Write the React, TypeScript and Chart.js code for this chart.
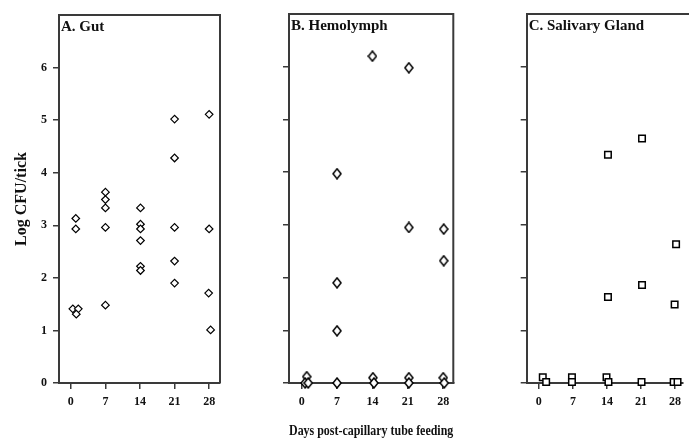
import React, { useEffect, useRef } from "react";
import { Chart, registerables } from "chart.js";

Chart.register(...registerables);

// ---- shared axis data ----
const DAY_TICKS = [0, 7, 14, 21, 28];
const LOG_TICKS = [0, 1, 2, 3, 4, 5, 6];
const Y_TITLE = "Log CFU/tick";
const X_TITLE = "Days post-capillary tube feeding";

// ---- A. Gut ----
const gutTitle = "A. Gut";
const gutDays = [1, 1, 0.4, 1.5, 1.1, 7, 7, 7, 7, 7, 14.1, 14.1, 14.1, 14.1, 14.1, 14.1, 21, 21, 21, 21, 21, 28, 28, 27.9, 28.3];
const gutLog = [3.13, 2.93, 1.41, 1.41, 1.31, 3.63, 3.49, 3.33, 2.96, 1.48, 3.33, 3.02, 2.93, 2.71, 2.22, 2.14, 5.02, 4.28, 2.96, 2.32, 1.9, 5.11, 2.93, 1.71, 1.01];

// ---- B. Hemolymph ----
const hemoTitle = "B. Hemolymph";
const hemoDays = [1, 0.7, 1.3, 7, 7, 7, 7, 14, 14.1, 14.3, 21.2, 21.2, 21.2, 21.2, 28.1, 28.1, 28, 28.2];
const hemoLog = [0.12, 0, 0, 3.97, 1.9, 0.99, 0, 6.2, 0.1, 0, 5.98, 2.95, 0.1, 0, 2.92, 2.32, 0.1, 0];

// ---- C. Salivary Gland ----
const salTitle = "C. Salivary Gland";
const salDays = [0.8, 1.5, 6.8, 6.8, 13.9, 14.3, 14.2, 14.2, 21.2, 21.2, 21.1, 27.7, 28.5, 28.2, 27.9];
const salLog = [0.11, 0.02, 0.11, 0.02, 0.11, 0.02, 4.33, 1.63, 4.64, 1.86, 0.02, 0.02, 0.02, 2.63, 1.49];

const AXIS_COLOR = "#3a3a3a";
const FONT = "'Liberation Serif', 'Times New Roman', serif";

function makeDiamond(w: number, h: number, lw: number) {
  const c = document.createElement("canvas");
  c.width = w + 2;
  c.height = h + 2;
  const ctx = c.getContext("2d")!;
  ctx.fillStyle = "#fff";
  ctx.strokeStyle = "#000";
  ctx.lineWidth = lw;
  ctx.beginPath();
  ctx.moveTo(c.width / 2, 1);
  ctx.lineTo(c.width - 1, c.height / 2);
  ctx.lineTo(c.width / 2, c.height - 1);
  ctx.lineTo(1, c.height / 2);
  ctx.closePath();
  ctx.fill();
  ctx.stroke();
  return c;
}

type PanelProps = {
  left: number;
  width: number;
  yWidth: number;
  padRight: number;
  padTop: number;
  xMin: number;
  xMax: number;
  title: string;
  days: number[];
  values: number[];
  marker: "diamondA" | "diamondB" | "square";
  showYLabels: boolean;
  showYTitle: boolean;
  showXTitle: boolean;
  drawRight: boolean;
};

function Panel(p: PanelProps) {
  const ref = useRef<HTMLCanvasElement | null>(null);
  useEffect(() => {
    if (!ref.current) return;
    Chart.defaults.font.family = FONT;
    Chart.defaults.color = "#111";

    let pointStyle: any = "rectRot";
    let radius = 3.8;
    if (p.marker === "diamondB") {
      pointStyle = makeDiamond(8, 10, 1.5);
      radius = 5;
    } else if (p.marker === "square") {
      pointStyle = "rect";
      radius = 4.6;
    }

    const frame = {
      id: "frame",
      afterDraw(chart: any) {
        const { ctx, chartArea } = chart;
        ctx.save();
        ctx.strokeStyle = AXIS_COLOR;
        ctx.lineWidth = 2;
        ctx.beginPath();
        ctx.moveTo(chartArea.left, chartArea.top);
        if (p.drawRight) {
          ctx.lineTo(chartArea.right, chartArea.top);
          ctx.lineTo(chartArea.right, chartArea.bottom);
        } else {
          ctx.lineTo(chart.width, chartArea.top);
        }
        ctx.stroke();
        ctx.fillStyle = "#111";
        ctx.font = `bold 15px ${FONT}`;
        ctx.textBaseline = "alphabetic";
        ctx.textAlign = "left";
        ctx.fillText(p.title, chartArea.left + 2, chartArea.top + 16);
        ctx.restore();
      },
    };

    const chart = new Chart(ref.current, {
      type: "scatter",
      data: {
        datasets: [
          {
            data: p.days.map((d, i) => ({ x: d, y: p.values[i] })),
            pointStyle,
            pointRadius: radius,
            pointHoverRadius: radius,
            backgroundColor: "#fff",
            borderColor: "#000",
            borderWidth: p.marker === "square" ? 1.5 : 1.2,
            clip: false as any,
          },
        ],
      },
      options: {
        animation: false,
        responsive: false,
        events: [],
        layout: { padding: { top: p.padTop, right: p.padRight, left: 0, bottom: 0 } },
        plugins: { legend: { display: false }, tooltip: { enabled: false } },
        scales: {
          x: {
            type: "linear",
            min: p.xMin,
            max: p.xMax,
            afterBuildTicks: (s: any) => {
              s.ticks = DAY_TICKS.map((v) => ({ value: v }));
            },
            afterFit: (s: any) => {
              s.height = 60;
            },
            grid: {
              drawOnChartArea: false,
              drawTicks: true,
              tickLength: 6,
              color: AXIS_COLOR,
              lineWidth: 1.5,
            },
            border: { display: true, color: AXIS_COLOR, width: 2 },
            ticks: {
              padding: 6,
              color: "#111",
              font: { family: FONT, size: 12, weight: "bold" },
              maxRotation: 0,
            },
            title: {
              display: p.showXTitle,
              text: X_TITLE,
              color: "#111",
              font: { family: FONT, size: 15, weight: "bold" },
              padding: { top: 0, bottom: 3 },
            },
          },
          y: {
            type: "linear",
            min: 0,
            max: 7,
            afterBuildTicks: (s: any) => {
              s.ticks = LOG_TICKS.map((v) => ({ value: v }));
            },
            afterFit: (s: any) => {
              s.width = p.yWidth;
            },
            grid: {
              drawOnChartArea: false,
              drawTicks: true,
              tickLength: 6,
              color: AXIS_COLOR,
              lineWidth: 1.5,
            },
            border: { display: true, color: AXIS_COLOR, width: 2 },
            ticks: {
              display: p.showYLabels,
              padding: 6,
              color: "#111",
              font: { family: FONT, size: 12, weight: "bold" },
            },
            title: {
              display: p.showYTitle,
              text: Y_TITLE,
              color: "#111",
              font: { family: FONT, size: 16, weight: "bold" },
              padding: { top: 12, bottom: 0 },
            },
          },
        },
      },
      plugins: [frame],
    } as any);
    return () => chart.destroy();
  }, []);

  return (
    <canvas
      ref={ref}
      width={p.width}
      height={443}
      style={{ position: "absolute", left: p.left, top: 0, width: p.width, height: 443 }}
    />
  );
}

export default function App() {
  return (
    <div style={{ position: "absolute", left: 0, top: 0, width: 689, height: 443, background: "#fff", overflow: "hidden" }}>
      <Panel
        left={0}
        width={230}
        yWidth={59}
        padRight={10}
        padTop={15}
        xMin={-2.4}
        xMax={30.2}
        title={gutTitle}
        days={gutDays}
        values={gutLog}
        marker="diamondA"
        showYLabels={true}
        showYTitle={true}
        showXTitle={false}
        drawRight={true}
      />
      <Panel
        left={230}
        width={240}
        yWidth={59}
        padRight={16.7}
        padTop={14}
        xMin={-2.5}
        xMax={30}
        title={hemoTitle}
        days={hemoDays}
        values={hemoLog}
        marker="diamondB"
        showYLabels={false}
        showYTitle={false}
        showXTitle={true}
        drawRight={true}
      />
      <Panel
        left={470}
        width={219}
        yWidth={56.7}
        padRight={0}
        padTop={14}
        xMin={-2.5}
        xMax={29.6}
        title={salTitle}
        days={salDays}
        values={salLog}
        marker="square"
        showYLabels={false}
        showYTitle={false}
        showXTitle={false}
        drawRight={false}
      />
    </div>
  );
}
